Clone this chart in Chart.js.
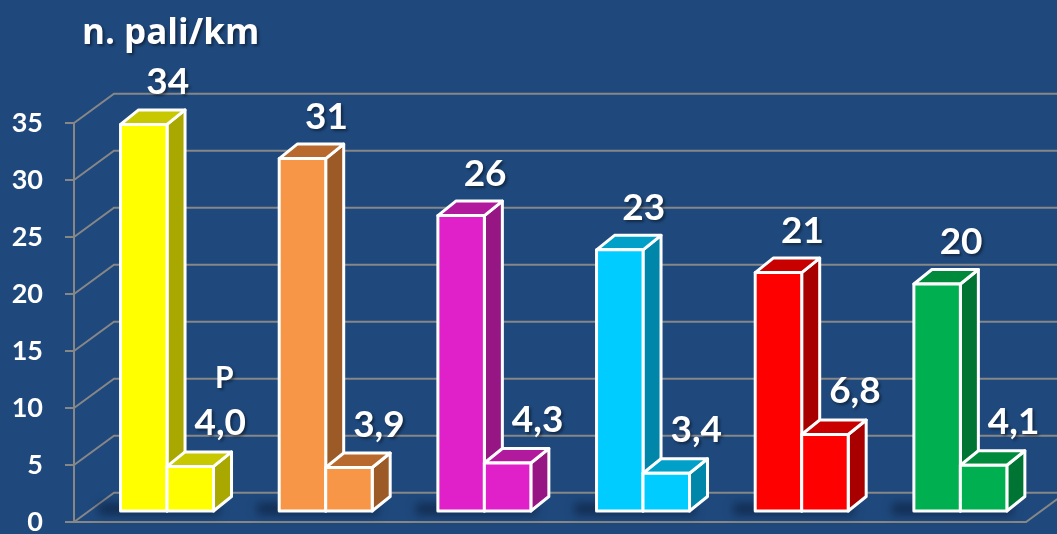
<!DOCTYPE html>
<html>
<head>
<meta charset="utf-8">
<script src="https://cdn.jsdelivr.net/npm/chart.js@4/dist/chart.umd.min.js"></script>
<style>
html, body { margin: 0; padding: 0; background: #1f497d; overflow: hidden; }
#wrap { width: 1057px; height: 534px; }
</style>
</head>
<body>
<div id="wrap"><canvas id="chart" width="1057" height="534"></canvas></div>
<script>
// data
const categories = ["1", "2", "3", "4", "5", "6"];
const tallValues = [34, 31, 26, 23, 21, 20];
const shortValues = [4.0, 3.9, 4.3, 3.4, 6.8, 4.1];
const yTicks = [0, 5, 10, 15, 20, 25, 30, 35];
const titleText = "n. pali/km";
const shortTag = "P";

const frontColors = ["#ffff00", "#f79646", "#e021c9", "#00ccff", "#ff0000", "#00b050"];
const topColors   = ["#c8c800", "#b86a2e", "#b21a9e", "#00a0c8", "#c80000", "#008a3c"];
const sideColors  = ["#a8a800", "#9c5a26", "#961784", "#0086a8", "#a80000", "#007432"];

const FONT = "Lato, 'Open Sans', sans-serif";
const GRID = "#878787";
const WALL = { x: 40, y: -29.3 };     // front axis -> back wall
const SHIFT = { x: 13.7, y: -10 };    // front axis -> bar front plane
const DEPTH = { x: 18, y: -14.5 };    // bar depth

function fmt(v, dec) {
  return dec ? v.toFixed(1).replace(".", ",") : String(v);
}

function face(ctx, pts, fill) {
  ctx.beginPath();
  ctx.moveTo(pts[0][0], pts[0][1]);
  for (let i = 1; i < pts.length; i++) ctx.lineTo(pts[i][0], pts[i][1]);
  ctx.closePath();
  ctx.fillStyle = fill;
  ctx.fill();
  ctx.stroke();
}

const box3d = {
  id: "box3d",
  beforeDatasetsDraw(chart) {
    const { ctx, chartArea: a, scales: { y } } = chart;
    ctx.save();
    ctx.strokeStyle = GRID;
    ctx.lineWidth = 2;
    yTicks.forEach((v) => {
      const py = y.getPixelForValue(v);
      ctx.beginPath();
      ctx.moveTo(a.left, py);
      ctx.lineTo(a.left + WALL.x, py + WALL.y);
      ctx.lineTo(a.right + WALL.x, py + WALL.y);
      ctx.stroke();
    });
    // floor front edge
    ctx.beginPath();
    ctx.moveTo(a.left, a.bottom);
    ctx.lineTo(a.right, a.bottom);
    ctx.lineTo(a.right + WALL.x, a.bottom + WALL.y);
    ctx.stroke();
    ctx.restore();
  },
  beforeDatasetDraw() {
    return false; // bars are drawn in 3D below
  },
  afterDatasetsDraw(chart) {
    const { ctx } = chart;
    const tall = chart.getDatasetMeta(0).data;
    const short = chart.getDatasetMeta(1).data;

    // soft shadows on the floor
    ctx.save();
    ctx.filter = "blur(5px)";
    ctx.fillStyle = "rgba(8,22,48,0.55)";
    tall.forEach((el, i) => {
      const s = short[i];
      const l = el.x - el.width / 2 + SHIFT.x - 22;
      const r = s.x + s.width / 2 + SHIFT.x + 6;
      const b = el.base + SHIFT.y;
      ctx.fillRect(l, b - 8, r - l, 12);
    });
    ctx.restore();

    ctx.save();
    ctx.strokeStyle = "#ffffff";
    ctx.lineWidth = 3;
    ctx.lineJoin = "round";
    categories.forEach((c, i) => {
      [tall[i], short[i]].forEach((el) => {
        const L = el.x - el.width / 2 + SHIFT.x;
        const R = L + el.width;
        const T = el.y + SHIFT.y;
        const B = el.base + SHIFT.y;
        face(ctx, [[R, T], [R + DEPTH.x, T + DEPTH.y], [R + DEPTH.x, B + DEPTH.y], [R, B]], sideColors[i]);
        face(ctx, [[L, T], [L + DEPTH.x, T + DEPTH.y], [R + DEPTH.x, T + DEPTH.y], [R, T]], topColors[i]);
        face(ctx, [[L, T], [R, T], [R, B], [L, B]], frontColors[i]);
      });
    });
    ctx.restore();

    // value labels
    ctx.save();
    ctx.fillStyle = "#ffffff";
    ctx.textAlign = "center";
    ctx.textBaseline = "alphabetic";
    ctx.shadowColor = "rgba(0,0,0,0.45)";
    ctx.shadowOffsetX = 2;
    ctx.shadowOffsetY = 2;
    ctx.shadowBlur = 3;
    ctx.font = "bold 37px " + FONT;
    tall.forEach((el, i) => {
      ctx.fillText(fmt(tallValues[i], false), el.x + SHIFT.x + 24, el.y + SHIFT.y - 30);
    });
    short.forEach((el, i) => {
      ctx.fillText(fmt(shortValues[i], true), el.x + SHIFT.x + 30, el.y + SHIFT.y - 31);
    });
    const p = short[0];
    ctx.font = "bold 30px " + FONT;
    ctx.fillText(shortTag, p.x + SHIFT.x + 34, p.y + SHIFT.y - 78);

    ctx.textAlign = "left";
    ctx.font = "bold 35px 'Open Sans', Lato, sans-serif";
    ctx.fillText(titleText, 82, 44);
    ctx.restore();
  }
};

new Chart(document.getElementById("chart"), {
  type: "bar",
  data: {
    labels: categories,
    datasets: [
      { data: tallValues, backgroundColor: frontColors, barPercentage: 1, categoryPercentage: 0.586 },
      { data: shortValues, backgroundColor: frontColors, barPercentage: 1, categoryPercentage: 0.586 }
    ]
  },
  options: {
    responsive: false,
    animation: false,
    devicePixelRatio: 1,
    layout: { padding: { top: 123, right: 31, bottom: 12, left: 0 } },
    plugins: {
      legend: { display: false },
      tooltip: { enabled: false }
    },
    scales: {
      x: { display: false },
      y: {
        min: yTicks[0],
        max: yTicks[yTicks.length - 1],
        ticks: {
          stepSize: 5,
          color: "#ffffff",
          padding: 22,
          font: { family: FONT, weight: "bold", size: 27, lineHeight: 0.8 }
        },
        grid: { drawOnChartArea: false, drawTicks: true, tickLength: 9, color: GRID, lineWidth: 2 },
        border: { display: true, color: GRID, width: 2 },
        afterFit(s) {
          s.width = 74;
          s.paddingTop = 0;
          s.paddingBottom = 0;
        }
      }
    }
  },
  plugins: [box3d]
});
</script>
</body>
</html>
